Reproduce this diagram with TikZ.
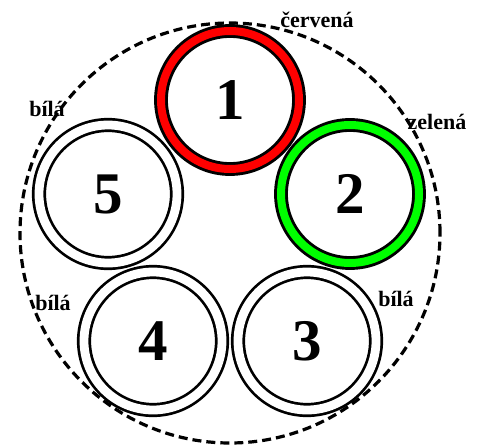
\documentclass[tikz,border=0pt]{standalone}
\usepackage{fontspec}
\setmainfont{Liberation Serif}
\usepackage{tikz}
\usetikzlibrary{positioning}
\definecolor{ringred}{RGB}{255,0,0}
\definecolor{ringgreen}{RGB}{0,255,0}
\tikzset{
  core/.style={circle, draw=black, line width=2.9pt, double distance=8pt,
               minimum size=138pt, inner sep=0pt,
               font=\fontsize{59}{60}\selectfont\bfseries},
  whitecore/.style={core, line width=2.7pt, double distance=8.8pt, double=white},
  redcore/.style={core, double=ringred},
  greencore/.style={core, double=ringgreen},
  tag/.style={font=\fontsize{22}{24}\selectfont\bfseries, inner sep=0pt},
}

\begin{document}
\begin{tikzpicture}[x=1pt, y=-1pt]
  \useasboundingbox (0,0) rectangle (481,444);

  % Cores
  \node[redcore]   (c1) at (230,100) {1};
  \node[greencore] (c2) at (350,194) {2};
  \node[whitecore] (c3) at (307,341) {3};
  \node[whitecore] (c4) at (153,341) {4};
  \node[whitecore] (c5) at (108,194) {5};

  % Sheath
  \draw[line width=3.2pt, dash pattern=on 9pt off 5pt] (230,233) circle[radius=210pt];

  % Labels
  \node[tag] (t1) at (317,20)  {červená};
  \node[tag] (t2) at (437,122) {zelená};
  \node[tag] (t3) at (396,299) {bílá};
  \node[tag] (t4) at (53,303)  {bílá};
  \node[tag] (t5) at (47,109)  {bílá};
\end{tikzpicture}
\end{document}
